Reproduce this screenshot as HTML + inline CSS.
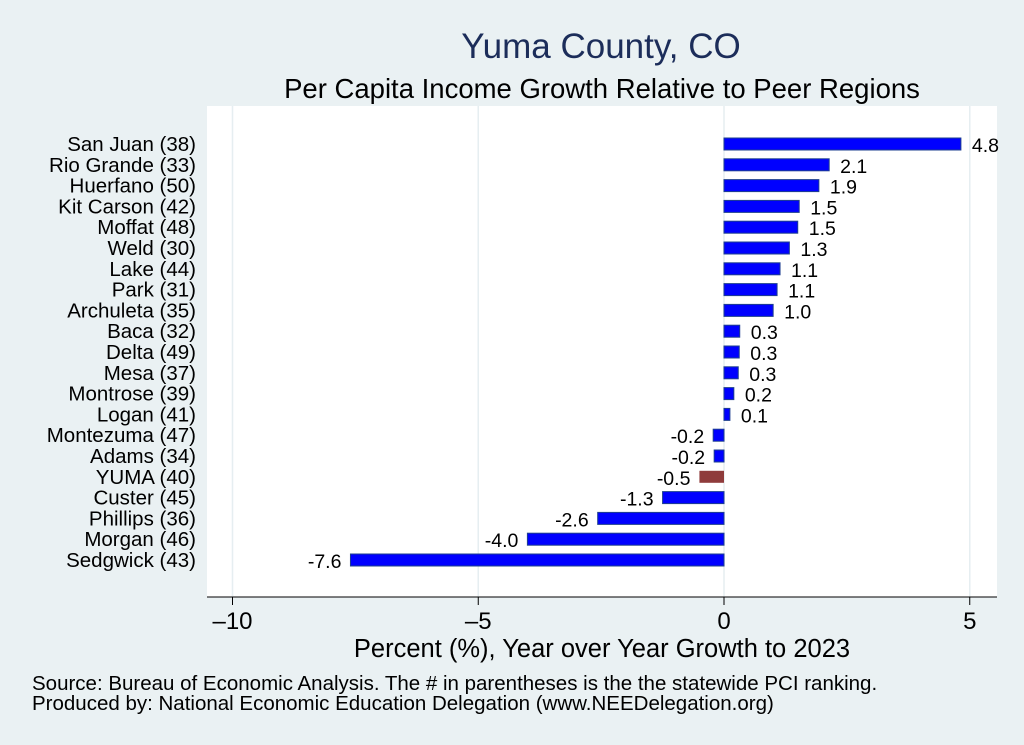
<!DOCTYPE html>
<html><head><meta charset="utf-8"><style>
body{margin:0;background:#eaf1f3;}
svg{display:block;font-family:"Liberation Sans",Arial,sans-serif;}
</style></head><body>
<svg id="chart" width="1024" height="745" viewBox="0 0 1024 745">
<rect x="0" y="0" width="1024" height="745" fill="#eaf1f3"/>
<rect x="207" y="106" width="790" height="491" fill="#ffffff"/>
<text x="601" y="58" text-anchor="middle" font-size="35" fill="#1c2d5a">Yuma County, CO</text>
<text x="602" y="98" text-anchor="middle" font-size="27.5" fill="#000">Per Capita Income Growth Relative to Peer Regions</text>
<g id="grid"></g>
<g id="bars"></g>
<line x1="207" y1="597" x2="997" y2="597" stroke="#000" stroke-width="1"/>
<g id="xaxis"></g>
<text x="602" y="657" text-anchor="middle" font-size="25.5" fill="#000">Percent (%), Year over Year Growth to 2023</text>
<text x="32" y="690" font-size="20.5" fill="#000">Source: Bureau of Economic Analysis. The # in parentheses is the the statewide PCI ranking.</text>
<text x="32" y="710" font-size="20.5" fill="#000">Produced by: National Economic Education Delegation (www.NEEDelegation.org)</text>
</svg>
<script>
const categories=["San Juan (38)","Rio Grande (33)","Huerfano (50)","Kit Carson (42)","Moffat (48)","Weld (30)","Lake (44)","Park (31)","Archuleta (35)","Baca (32)","Delta (49)","Mesa (37)","Montrose (39)","Logan (41)","Montezuma (47)","Adams (34)","YUMA (40)","Custer (45)","Phillips (36)","Morgan (46)","Sedgwick (43)"];
const values=[4.82,2.14,1.93,1.53,1.5,1.33,1.14,1.08,1.0,0.32,0.31,0.29,0.2,0.12,-0.22,-0.2,-0.5,-1.25,-2.57,-4.0,-7.6];
const valueLabels=["4.8","2.1","1.9","1.5","1.5","1.3","1.1","1.1","1.0","0.3","0.3","0.3","0.2","0.1","-0.2","-0.2","-0.5","-1.3","-2.6","-4.0","-7.6"];
const xTicks=[-10,-5,0,5];
const highlight="YUMA (40)";
const NS="http://www.w3.org/2000/svg";
const x=v=>724+v*49.15;
const y=i=>144+i*20.8;
function mk(t,a,p){const e=document.createElementNS(NS,t);for(const k in a)e.setAttribute(k,a[k]);p.appendChild(e);return e;}
const grid=document.getElementById('grid'),bars=document.getElementById('bars'),xa=document.getElementById('xaxis');
xTicks.forEach(t=>{
 const g=mk('line',{x1:x(t),y1:106,x2:x(t),y2:597,stroke:'#e6eef1','stroke-width':1.5},grid);
 
 
 const tk=mk('line',{x1:x(t),y1:597,x2:x(t),y2:605,stroke:'#000'},xa);
 
 
 const tl=mk('text',{x:x(t),y:629,'text-anchor':'middle','font-size':24},xa);
 tl.textContent=String(t).replace('-','\u2013');
 
 
});
categories.forEach((c,i)=>{
 const v=values[i],cy=y(i);
 const hl=c===highlight;
 const r=mk('rect',{x:Math.min(x(0),x(v)),y:cy-6,width:Math.abs(x(v)-x(0)),height:12,fill:hl?'#8f3b3b':'#0000ff',stroke:hl?'none':'#1e3f8f','stroke-width':1},bars);
 
 
 const l=mk('text',{x:196,y:cy+7,'text-anchor':'end','font-size':20.5},bars);
 l.textContent=c;
 
 
 const vl=mk('text',{x:v>=0?x(v)+11:x(v)-9,y:cy+8,'text-anchor':v>=0?'start':'end','font-size':19.5},bars);
 vl.textContent=valueLabels[i];
 
 
});
</script>
</body></html>
